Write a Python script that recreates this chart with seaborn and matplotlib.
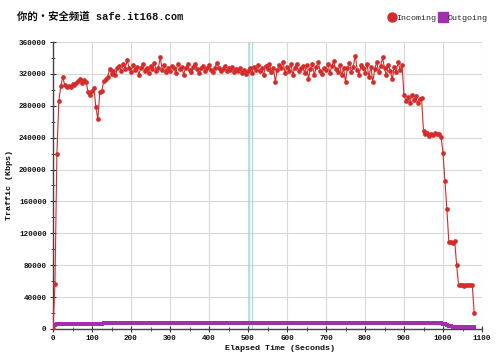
import numpy as np
import pandas as pd
import seaborn as sns
import matplotlib.pyplot as plt
from matplotlib.lines import Line2D
from matplotlib.ticker import MultipleLocator

sns.set_style("whitegrid")
plt.rcParams['font.family'] = ['Liberation Mono', 'Noto Sans CJK SC', 'DejaVu Sans']

# %% 数据 (每5秒一个采样点)
seconds = np.arange(0, 1085, 5)

incoming = [
    0, 56000, 220000, 286000, 305000, 316000, 306000, 303000, 305000, 304000,
    307000, 306000, 309000, 311000, 314000, 309000, 312000, 310000, 297000, 293000,
    299000, 302000, 278000, 263000, 297000, 298000, 311000, 313000, 316000, 326000,
    320000, 324000, 318000, 327000, 330000, 323000, 332000, 326000, 337000, 328000,
    322000, 331000, 325000, 329000, 319000, 327000, 333000, 324000, 328000, 321000,
    330000, 326000, 334000, 323000, 327000, 341000, 325000, 331000, 322000, 328000,
    324000, 330000, 327000, 321000, 333000, 326000, 329000, 319000, 328000, 332000,
    325000, 322000, 329000, 333000, 326000, 321000, 327000, 330000, 324000, 328000,
    331000, 325000, 322000, 328000, 334000, 327000, 323000, 326000, 330000, 324000,
    327000, 325000, 329000, 322000, 326000, 324000, 328000, 321000, 325000, 320000,
    324000, 327000, 321000, 329000, 325000, 331000, 323000, 327000, 318000, 330000,
    326000, 333000, 322000, 328000, 310000, 325000, 331000, 327000, 335000, 321000,
    329000, 324000, 332000, 319000, 328000, 333000, 323000, 327000, 330000, 321000,
    331000, 314000, 326000, 333000, 318000, 329000, 335000, 324000, 320000, 328000,
    325000, 333000, 321000, 330000, 336000, 326000, 322000, 331000, 318000, 327000,
    310000, 328000, 334000, 322000, 329000, 343000, 325000, 319000, 331000, 327000,
    321000, 333000, 316000, 329000, 310000, 326000, 335000, 322000, 330000, 341000,
    327000, 318000, 331000, 324000, 313000, 329000, 322000, 335000, 325000, 331000,
    293000, 286000, 291000, 284000, 293000, 287000, 292000, 283000, 289000, 290000,
    248000, 244000, 246000, 242000, 245000, 243000, 246000, 244000, 245000, 241000,
    221000, 186000, 150000, 109000, 109000, 108000, 110000, 80000, 55000, 55000,
    55000, 54000, 55000, 55000, 55000, 55000, 20000,
]

outgoing = [
    0, 5500, 6000, 6200, 6000, 6100, 6000, 6200, 6000, 6100,
    6000, 6200, 6100, 6000, 6200, 6100, 6000, 6200, 6100, 6000,
    6200, 6100, 6000, 6200, 6100, 6300, 7400, 7600, 7500, 7700,
    7600, 7800, 7500, 7700, 7600, 7800, 7500, 7700, 7600, 7800,
    7600, 7700, 7500, 7800, 7600, 7700, 7500, 7800, 7600, 7700,
    7500, 7700, 7600, 7800, 7500, 7700, 7600, 7800, 7500, 7700,
    7600, 7700, 7500, 7800, 7600, 7700, 7500, 7800, 7600, 7700,
    7500, 7700, 7600, 7800, 7500, 7700, 7600, 7800, 7500, 7700,
    7600, 7700, 7500, 7800, 7600, 7700, 7500, 7800, 7600, 7700,
    7500, 7700, 7600, 7800, 7500, 7700, 7600, 7800, 7500, 7700,
    7600, 7700, 7500, 7800, 7600, 7700, 7500, 7800, 7600, 7700,
    7500, 7700, 7600, 7800, 7500, 7700, 7600, 7800, 7500, 7700,
    7600, 7700, 7500, 7700, 7600, 7700, 7500, 7700, 7600, 7700,
    7500, 7600, 7400, 7600, 7500, 7600, 7400, 7600, 7500, 7600,
    7400, 7600, 7500, 7600, 7400, 7600, 7500, 7600, 7400, 7600,
    7500, 7600, 7400, 7600, 7500, 7600, 7400, 7600, 7500, 7600,
    7400, 7500, 7300, 7500, 7400, 7500, 7300, 7500, 7400, 7500,
    7300, 7500, 7400, 7500, 7300, 7400, 7300, 7400, 7200, 7400,
    7300, 7400, 7200, 7300, 7200, 7300, 7100, 7300, 7200, 7300,
    7100, 7200, 7100, 7200, 7000, 7200, 7100, 7000, 7100, 7000,
    6800, 6000, 5000, 4200, 3500, 3000, 2600, 2500, 2400, 2500,
    2400, 2500, 2400, 2500, 2400, 2500, 2400,
]

df = pd.DataFrame({'t': seconds, 'Incoming': incoming, 'Outgoing': outgoing})

red = '#d42b2b'
purple = '#a22fae'

# %% 绘图
fig, ax = plt.subplots(figsize=(5, 3.56), dpi=100)
fig.subplots_adjust(left=0.106, right=0.964, top=0.882, bottom=0.076)

# 中间的青色标记线
ax.axvline(503, color='#a8e2e4', lw=1.0, zorder=1)
ax.axvline(510, color='#a8e2e4', lw=1.0, zorder=1)

sns.lineplot(data=df, x='t', y='Outgoing', color=purple, lw=2.5, marker='s',
             markersize=3.2, markeredgewidth=0, ax=ax, zorder=3)
sns.lineplot(data=df, x='t', y='Incoming', color=red, lw=0.8, marker='o',
             markersize=3.4, markeredgewidth=0, ax=ax, zorder=4)

ax.set_xlim(0, 1100)
ax.set_ylim(0, 360000)
ax.xaxis.set_major_locator(MultipleLocator(100))
ax.xaxis.set_minor_locator(MultipleLocator(50))
ax.yaxis.set_major_locator(MultipleLocator(40000))
ax.yaxis.set_minor_locator(MultipleLocator(20000))
ax.grid(True, which='major', color='#d8d8d8', lw=0.8)
ax.grid(False, which='minor')

for side in ['top', 'right']:
    ax.spines[side].set_visible(False)
for side in ['left', 'bottom']:
    ax.spines[side].set_color('#444444')
    ax.spines[side].set_linewidth(1.0)

ax.tick_params(axis='both', which='both', direction='inout', colors='#333333',
               labelsize=5.5, labelcolor='#111111', pad=2)
ax.tick_params(which='major', length=5)
ax.tick_params(which='minor', length=3)
ax.tick_params(axis='x', bottom=True, which='both')
ax.tick_params(axis='y', left=True, which='both')
for lab in ax.get_xticklabels() + ax.get_yticklabels():
    lab.set_fontweight('bold')

ax.set_xlabel('Elapsed Time (Seconds)', fontsize=6, labelpad=2, color='#111111',
              fontweight='bold')
ax.set_ylabel('Traffic (Kbps)', fontsize=6, labelpad=4, color='#111111',
              fontweight='bold')
ax.xaxis.set_label_coords(0.53, -0.055)

handles = [Line2D([], [], marker='o', color=red, lw=0, markersize=6.5),
           Line2D([], [], marker='s', color=purple, lw=0, markersize=6.5)]
fig.legend(handles, ['Incoming', 'Outgoing'], loc='center right',
           bbox_to_anchor=(0.99, 0.95), ncol=2, frameon=False, fontsize=6,
           handletextpad=0.1, columnspacing=0.2, handlelength=1.0)

fig.text(0.034, 0.955, '你的・安全频道 safe.it168.com', fontsize=7.5,
         fontweight='bold', va='center', color='#111111')

plt.savefig('out.png', dpi=100)
